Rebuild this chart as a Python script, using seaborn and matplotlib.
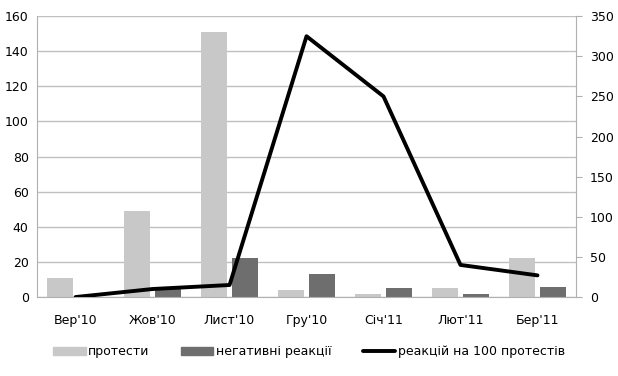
import pandas as pd
import numpy as np
import seaborn as sns
from matplotlib import pyplot as plt
from matplotlib.patches import Patch
from matplotlib.lines import Line2D

# Données
mois = ["Вер'10", "Жов'10", "Лист'10", "Гру'10", "Січ'11", "Лют'11", "Бер'11"]
protesty = [11, 49, 151, 4, 2, 5, 22]
negatyvni = [0, 5, 22, 13, 5, 2, 6]
na_100 = [0, 10, 15, 325, 250, 40, 27]

noms = ["протести", "негативні реакції", "реакцій на 100 протестів"]
couleurs = ["#c8c8c8", "#6e6e6e", "#000000"]

sns.set_style("white")
plt.rcParams['font.family'] = ['DejaVu Sans']

df = pd.DataFrame({
    'mois': mois * 2,
    'valeur': protesty + negatyvni,
    'serie': [noms[0]] * len(mois) + [noms[1]] * len(mois),
})

fig = plt.figure(figsize=(6.18, 3.76), dpi=100)
ax = fig.add_axes([0.06, 0.21, 0.872, 0.747])

sns.barplot(data=df, x='mois', y='valeur', hue='serie', palette=couleurs[:2],
            width=0.8, gap=0.15, ax=ax, legend=False, saturation=1, linewidth=0)
ax.set_ylim(0, 160)
ax.set_yticks(range(0, 161, 20))
ax.set_xlim(-0.5, len(mois) - 0.5)
ax.set_xlabel('')
ax.set_ylabel('')
ax.grid(axis='y', color='#c0c0c0', linewidth=1)
ax.set_axisbelow(True)
for s in ['top', 'right']:
    ax.spines[s].set_visible(False)
for s in ['left', 'bottom']:
    ax.spines[s].set_color('#b0b0b0')
ax.tick_params(axis='both', length=0, labelsize=9, pad=6, labelcolor='black')
ax.tick_params(axis='x', pad=12)

ax2 = ax.twinx()
sns.lineplot(x=np.arange(len(mois)), y=na_100, color='black', linewidth=2.8, ax=ax2)
ax2.set_ylim(0, 350)
ax2.set_yticks(range(0, 351, 50))
for s in ['top', 'left', 'bottom']:
    ax2.spines[s].set_visible(False)
ax2.spines['right'].set_color('#b0b0b0')
ax2.tick_params(axis='y', length=4, color='#b0b0b0', labelsize=9, pad=6,
                labelcolor='black')

poignees = [Patch(color=couleurs[0]), Patch(color=couleurs[1]),
            Line2D([0], [0], color='black', linewidth=2.8)]
fig.legend(poignees, noms, loc='center', bbox_to_anchor=(0.5, 0.064), ncol=3,
           frameon=False, fontsize=9, handlelength=2.6, handletextpad=0.2,
           columnspacing=2.5, labelcolor='black')

plt.savefig('out.png', dpi=100)
